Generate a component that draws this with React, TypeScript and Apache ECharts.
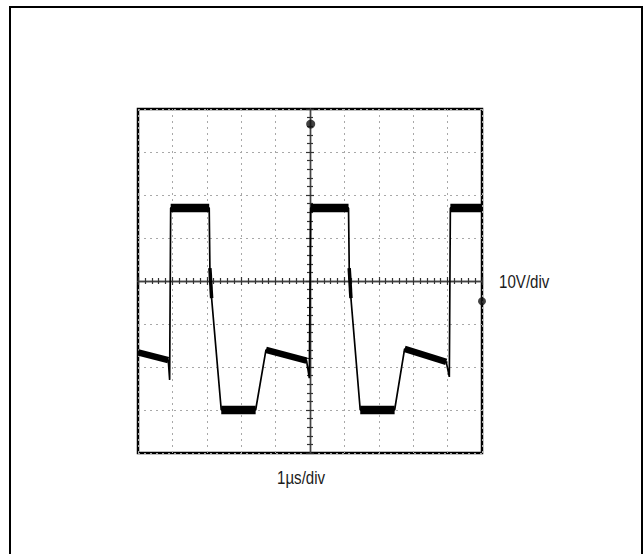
import React, { useEffect, useRef } from "react";
import * as echarts from "echarts";

// Time (µs, relative to screen centre) and voltage (V) of the traced waveform
const traceT = [-5, -4.12, -4.08, -4.05, -2.93, -2.91, -2.86, -2.58, -1.58, -1.28, -0.1, -0.02, 0.02, 1.12, 1.14, 1.19, 1.46, 2.46, 2.75, 3.96, 4.05, 4.08, 5];
const traceV = [-16.6, -18.4, -23, 17, 17, 3, -4, -30, -30, -16, -18.5, -22.6, 17, 17, 3, -4, -30, -30, -15.8, -18.8, -22.3, 17, 17];

// Segments of the trace (index pairs) that show a thick, noisy band
const flatSegments = [[3, 4], [12, 13], [21, 22], [7, 8], [16, 17]];
const tailSegments = [[0, 1], [9, 10], [18, 19]];
const blobSegments = [[5, 6], [14, 15]];

// Markers on the screen
const triggerMarker = [[0.02, 36.5]];
const levelMarker = [[5, -4.7]];

// Scale labels
const voltLabel = "10V/div";
const timeLabel = "1\u00b5s/div";

const X_MIN = -5, X_MAX = 5, X_STEP = 1;
const Y_MIN = -40, Y_MAX = 40, Y_STEP = 10;

export default function App() {
  const ref = useRef<HTMLDivElement>(null);
  useEffect(() => {
    if (!ref.current) return;
    const chart = echarts.init(ref.current, undefined, { renderer: "svg" });
    const pts = traceT.map((t, i) => [t, traceV[i]]);
    const segSeries = (segs: number[][], width: number) =>
      segs.map(([a, b]) => ({
        type: "line",
        data: [pts[a], pts[b]],
        showSymbol: false,
        symbol: "none",
        lineStyle: { color: "#000", width, cap: "butt" },
        z: 4,
        silent: true,
      }));

    const gridLine = { show: true, lineStyle: { color: "#a8a8a8", width: 1, type: [2, 4] } };
    const centreLine = { onZero: true, lineStyle: { color: "#444", width: 1.4 } };

    const xBase = {
      type: "value",
      min: X_MIN,
      max: X_MAX,
      interval: X_STEP,
      axisLabel: { show: false },
      axisTick: { show: true, length: 4, lineStyle: { color: "#333", width: 1.2 } },
      minorTick: { show: true, splitNumber: 5, length: 3, lineStyle: { color: "#333", width: 1.2 } },
    };
    const yBase = {
      type: "value",
      min: Y_MIN,
      max: Y_MAX,
      interval: Y_STEP,
      axisLabel: { show: false },
      axisTick: { show: true, length: 4, lineStyle: { color: "#333", width: 1.2 } },
      minorTick: { show: true, splitNumber: 5, length: 3, lineStyle: { color: "#333", width: 1.2 } },
    };

    const labelStyle = {
      font: "18px 'Liberation Sans', Arial, sans-serif",
      fill: "#1a1a1a",
      verticalAlign: "middle",
      align: "left",
    };

    chart.setOption({
      animation: false,
      backgroundColor: "#fff",
      grid: {
        left: 138,
        top: 109,
        width: 344,
        height: 344,
        show: true,
        borderColor: "#000",
        borderWidth: 2.5,
        backgroundColor: "transparent",
      },
      xAxis: [
        { ...xBase, position: "bottom", axisLine: centreLine, splitLine: gridLine },
        { ...xBase, position: "top", axisLine: centreLine, splitLine: { show: false } },
      ],
      yAxis: [
        { ...yBase, position: "left", axisLine: centreLine, splitLine: gridLine },
        { ...yBase, position: "right", axisLine: centreLine, splitLine: { show: false } },
      ],
      series: [
        {
          type: "line",
          data: pts,
          showSymbol: false,
          symbol: "none",
          lineStyle: { color: "#000", width: 1.7 },
          z: 3,
        },
        ...segSeries(flatSegments, 8.5),
        ...segSeries(tailSegments, 6.5),
        ...segSeries(blobSegments, 3.5),
        {
          type: "scatter",
          data: triggerMarker,
          symbol: "circle",
          symbolSize: 9,
          itemStyle: { color: "#111" },
          z: 5,
        },
        {
          type: "scatter",
          data: levelMarker,
          symbol: "circle",
          symbolSize: 8,
          itemStyle: { color: "#111" },
          clip: false,
          z: 5,
        },
      ],
      graphic: [
        {
          type: "rect",
          shape: { x: 10, y: 7, width: 632, height: 600 },
          style: { fill: "none", stroke: "#000", lineWidth: 2 },
          silent: true,
        },
        {
          type: "text",
          x: 499,
          y: 282,
          scaleX: 0.84,
          style: { ...labelStyle, text: voltLabel },
        },
        {
          type: "text",
          x: 277,
          y: 478,
          scaleX: 0.84,
          style: { ...labelStyle, text: timeLabel },
        },
      ],
    });
    return () => chart.dispose();
  }, []);
  return (
    <div
      ref={ref}
      style={{ position: "absolute", left: 0, top: 0, width: 644, height: 554, background: "#fff" }}
    />
  );
}
